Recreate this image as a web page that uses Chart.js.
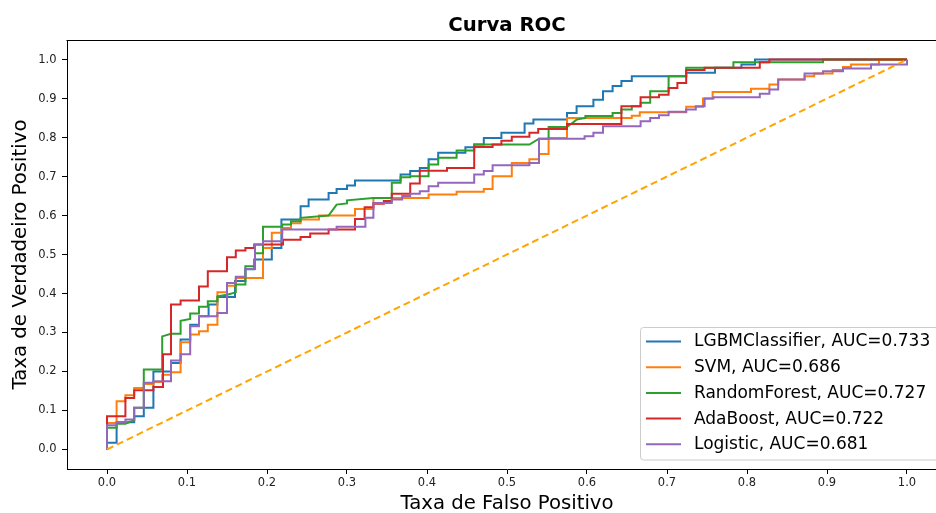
<!DOCTYPE html>
<html><head><meta charset="utf-8">
<script src="https://cdn.jsdelivr.net/npm/chart.js@4.4.1/dist/chart.umd.min.js"></script>
<style>
html,body{margin:0;padding:0;background:#fff;overflow:hidden;}
#wrap{width:936px;height:513px;overflow:hidden;position:relative;background:#fff;}
canvas{display:block;}
</style></head><body>
<div id="wrap"><canvas id="c" width="960" height="513"></canvas></div>
<script>
const chartTitle = 'Curva ROC';
const xAxisTitle = 'Taxa de Falso Positivo';
const yAxisTitle = 'Taxa de Verdadeiro Positivo';
const xTickValues = [0.0, 0.1, 0.2, 0.3, 0.4, 0.5, 0.6, 0.7, 0.8, 0.9, 1.0];
const yTickValues = [0.0, 0.1, 0.2, 0.3, 0.4, 0.5, 0.6, 0.7, 0.8, 0.9, 1.0];
const seriesNames = ['LGBMClassifier', 'SVM', 'RandomForest', 'AdaBoost', 'Logistic'];
const aucValues = [0.733, 0.686, 0.727, 0.722, 0.681];
const seriesColors = ['#1f77b4', '#ff7f0e', '#2ca02c', '#d62728', '#9467bd'];

const lgbmPoints = [[0,0],[0,0.017],[0.012,0.017],[0.012,0.070],[0.034,0.070],[0.034,0.085],[0.046,0.085],[0.046,0.107],[0.058,0.107],[0.058,0.200],[0.080,0.200],[0.080,0.222],[0.092,0.222],[0.092,0.282],[0.104,0.282],[0.104,0.320],[0.115,0.320],[0.115,0.342],[0.127,0.342],[0.127,0.372],[0.138,0.372],[0.138,0.391],[0.160,0.391],[0.160,0.432],[0.173,0.432],[0.173,0.462],[0.184,0.462],[0.184,0.487],[0.206,0.487],[0.206,0.517],[0.218,0.517],[0.218,0.590],[0.242,0.590],[0.242,0.624],[0.252,0.624],[0.252,0.641],[0.277,0.641],[0.277,0.658],[0.287,0.658],[0.287,0.668],[0.300,0.668],[0.300,0.677],[0.310,0.677],[0.310,0.690],[0.367,0.690],[0.367,0.705],[0.379,0.705],[0.379,0.714],[0.391,0.714],[0.391,0.722],[0.402,0.722],[0.402,0.744],[0.414,0.744],[0.414,0.761],[0.448,0.761],[0.448,0.775],[0.459,0.775],[0.459,0.782],[0.471,0.782],[0.471,0.799],[0.493,0.799],[0.493,0.812],[0.522,0.812],[0.522,0.836],[0.533,0.836],[0.533,0.846],[0.575,0.846],[0.575,0.863],[0.587,0.863],[0.587,0.880],[0.608,0.880],[0.608,0.897],[0.620,0.897],[0.620,0.919],[0.632,0.919],[0.632,0.932],[0.643,0.932],[0.643,0.945],[0.656,0.945],[0.656,0.957],[0.724,0.957],[0.724,0.966],[0.760,0.966],[0.760,0.979],[0.793,0.979],[0.793,0.987],[0.810,0.987],[0.810,1.0],[1.0,1.0]];

const svmPoints = [[0,0],[0,0.068],[0.012,0.068],[0.012,0.124],[0.023,0.124],[0.023,0.139],[0.034,0.139],[0.034,0.158],[0.046,0.158],[0.046,0.168],[0.058,0.168],[0.058,0.173],[0.069,0.173],[0.069,0.192],[0.080,0.192],[0.080,0.198],[0.092,0.198],[0.092,0.275],[0.104,0.275],[0.104,0.295],[0.115,0.295],[0.115,0.303],[0.126,0.303],[0.126,0.320],[0.138,0.320],[0.138,0.403],[0.150,0.403],[0.150,0.420],[0.161,0.420],[0.161,0.440],[0.195,0.440],[0.195,0.517],[0.206,0.517],[0.206,0.556],[0.219,0.556],[0.219,0.568],[0.230,0.568],[0.230,0.580],[0.242,0.580],[0.242,0.590],[0.265,0.590],[0.265,0.600],[0.310,0.600],[0.310,0.617],[0.333,0.617],[0.333,0.645],[0.402,0.645],[0.402,0.654],[0.437,0.654],[0.437,0.661],[0.471,0.661],[0.471,0.668],[0.482,0.668],[0.482,0.701],[0.506,0.701],[0.506,0.735],[0.528,0.735],[0.528,0.744],[0.540,0.744],[0.540,0.758],[0.552,0.758],[0.552,0.799],[0.575,0.799],[0.575,0.850],[0.656,0.850],[0.656,0.856],[0.666,0.856],[0.666,0.865],[0.724,0.865],[0.724,0.879],[0.745,0.879],[0.745,0.900],[0.757,0.900],[0.757,0.917],[0.805,0.917],[0.805,0.925],[0.828,0.925],[0.828,0.936],[0.839,0.936],[0.839,0.949],[0.872,0.949],[0.872,0.957],[0.884,0.957],[0.884,0.964],[0.907,0.964],[0.907,0.973],[0.920,0.973],[0.920,0.981],[0.930,0.981],[0.930,0.987],[0.965,0.987],[0.965,1.0],[1.0,1.0]];

const rfPoints = [[0,0],[0,0.056],[0.012,0.056],[0.012,0.066],[0.023,0.066],[0.034,0.075],[0.034,0.107],[0.046,0.107],[0.046,0.205],[0.069,0.205],[0.069,0.290],[0.080,0.297],[0.092,0.297],[0.092,0.330],[0.104,0.335],[0.104,0.349],[0.115,0.349],[0.115,0.366],[0.126,0.366],[0.126,0.380],[0.138,0.380],[0.138,0.393],[0.150,0.397],[0.161,0.403],[0.161,0.423],[0.173,0.423],[0.173,0.470],[0.185,0.470],[0.185,0.503],[0.195,0.503],[0.195,0.571],[0.219,0.571],[0.219,0.577],[0.230,0.577],[0.230,0.585],[0.242,0.585],[0.242,0.594],[0.277,0.600],[0.287,0.628],[0.300,0.631],[0.300,0.639],[0.333,0.645],[0.356,0.645],[0.356,0.684],[0.367,0.684],[0.367,0.698],[0.379,0.698],[0.379,0.701],[0.402,0.701],[0.402,0.731],[0.414,0.731],[0.414,0.748],[0.437,0.748],[0.437,0.767],[0.459,0.767],[0.459,0.782],[0.528,0.782],[0.540,0.797],[0.552,0.797],[0.552,0.827],[0.575,0.827],[0.587,0.846],[0.598,0.850],[0.598,0.855],[0.632,0.855],[0.632,0.863],[0.643,0.863],[0.643,0.872],[0.656,0.872],[0.656,0.880],[0.667,0.880],[0.667,0.889],[0.679,0.889],[0.679,0.919],[0.702,0.919],[0.702,0.957],[0.724,0.957],[0.724,0.979],[0.783,0.979],[0.783,0.993],[0.895,0.993],[0.895,1.0],[1.0,1.0]];

const adaPoints = [[0,0],[0,0.085],[0.023,0.085],[0.023,0.132],[0.034,0.132],[0.034,0.152],[0.058,0.152],[0.058,0.160],[0.070,0.160],[0.070,0.244],[0.080,0.244],[0.080,0.372],[0.092,0.372],[0.092,0.382],[0.115,0.382],[0.115,0.418],[0.126,0.418],[0.126,0.457],[0.150,0.457],[0.150,0.493],[0.161,0.493],[0.161,0.510],[0.173,0.510],[0.173,0.517],[0.184,0.517],[0.184,0.526],[0.220,0.526],[0.220,0.538],[0.242,0.538],[0.242,0.545],[0.254,0.545],[0.254,0.554],[0.277,0.554],[0.277,0.564],[0.310,0.564],[0.310,0.591],[0.322,0.591],[0.322,0.621],[0.333,0.621],[0.333,0.630],[0.346,0.630],[0.346,0.637],[0.356,0.637],[0.356,0.656],[0.379,0.656],[0.379,0.682],[0.391,0.682],[0.391,0.715],[0.425,0.715],[0.425,0.722],[0.459,0.722],[0.459,0.776],[0.482,0.776],[0.482,0.782],[0.493,0.782],[0.493,0.792],[0.506,0.792],[0.506,0.802],[0.528,0.802],[0.528,0.812],[0.539,0.812],[0.539,0.822],[0.575,0.822],[0.575,0.835],[0.643,0.835],[0.643,0.880],[0.667,0.880],[0.667,0.903],[0.690,0.903],[0.690,0.910],[0.702,0.910],[0.702,0.927],[0.713,0.927],[0.713,0.940],[0.724,0.940],[0.724,0.973],[0.747,0.973],[0.747,0.979],[0.816,0.979],[0.816,0.993],[0.828,0.993],[0.828,1.0],[1.0,1.0]];

const logisticPoints = [[0,0],[0,0.062],[0.012,0.062],[0.012,0.070],[0.023,0.070],[0.023,0.077],[0.034,0.077],[0.034,0.107],[0.046,0.107],[0.046,0.171],[0.058,0.171],[0.058,0.175],[0.080,0.175],[0.080,0.228],[0.092,0.228],[0.092,0.244],[0.104,0.244],[0.104,0.316],[0.115,0.316],[0.115,0.342],[0.138,0.342],[0.138,0.350],[0.150,0.350],[0.150,0.427],[0.161,0.427],[0.161,0.443],[0.173,0.443],[0.173,0.463],[0.185,0.463],[0.185,0.526],[0.195,0.526],[0.195,0.534],[0.219,0.534],[0.219,0.564],[0.287,0.564],[0.287,0.571],[0.323,0.571],[0.323,0.594],[0.333,0.594],[0.333,0.632],[0.356,0.632],[0.356,0.641],[0.369,0.641],[0.369,0.650],[0.379,0.650],[0.379,0.656],[0.391,0.656],[0.391,0.662],[0.402,0.662],[0.402,0.675],[0.414,0.675],[0.414,0.684],[0.459,0.684],[0.459,0.705],[0.471,0.705],[0.471,0.714],[0.482,0.714],[0.482,0.729],[0.528,0.729],[0.528,0.735],[0.540,0.735],[0.540,0.797],[0.597,0.797],[0.597,0.803],[0.608,0.803],[0.608,0.812],[0.620,0.812],[0.620,0.829],[0.667,0.829],[0.667,0.842],[0.679,0.842],[0.679,0.850],[0.690,0.850],[0.690,0.857],[0.702,0.857],[0.702,0.866],[0.724,0.866],[0.724,0.872],[0.736,0.872],[0.736,0.880],[0.747,0.880],[0.747,0.900],[0.758,0.900],[0.758,0.903],[0.816,0.903],[0.816,0.912],[0.828,0.912],[0.828,0.923],[0.839,0.923],[0.839,0.949],[0.872,0.949],[0.872,0.964],[0.895,0.964],[0.895,0.970],[0.920,0.970],[0.920,0.977],[0.955,0.977],[0.955,0.987],[1.0,0.987],[1.0,1.0]];

const diagonalPoints = [[0,0],[1,1]];
const diagonalColor = '#ffa500';

const allSeries = [lgbmPoints, svmPoints, rfPoints, adaPoints, logisticPoints];
const FONT = 'DejaVu Sans';
const toXY = pts => pts.map(p => ({x: p[0], y: p[1]}));

const datasets = allSeries.map((pts, i) => ({
  label: seriesNames[i] + ', AUC=' + aucValues[i].toFixed(3),
  data: toXY(pts),
  borderColor: seriesColors[i],
  backgroundColor: seriesColors[i],
  borderWidth: 2,
  pointRadius: 0,
  tension: 0,
  fill: false,
  order: 5 - i
}));
datasets.push({
  label: 'diag',
  data: toXY(diagonalPoints),
  borderColor: diagonalColor,
  borderWidth: 2,
  borderDash: [7, 4],
  pointRadius: 0,
  fill: false,
  order: 0
});

const framePlugin = {
  id: 'frame',
  afterDatasetsDraw(chart) {
    const a = chart.chartArea, ctx = chart.ctx;
    ctx.save();
    ctx.strokeStyle = '#000';
    ctx.lineWidth = 1;
    ctx.beginPath();
    ctx.moveTo(Math.round(a.left) - 0.5, Math.round(a.top) + 0.5);
    ctx.lineTo(Math.round(a.right) + 0.5, Math.round(a.top) + 0.5);
    ctx.lineTo(Math.round(a.right) + 0.5, Math.round(a.bottom) + 0.5);
    ctx.stroke();
    ctx.restore();
  }
};

const legendPlugin = {
  id: 'boxLegend',
  afterDraw(chart) {
    const ctx = chart.ctx;
    const bx = 640.5, by = 327.5, bw = 305, bh = 132.5, r = 3;
    ctx.save();
    ctx.beginPath();
    ctx.moveTo(bx + r, by);
    ctx.lineTo(bx + bw - r, by);
    ctx.arcTo(bx + bw, by, bx + bw, by + r, r);
    ctx.lineTo(bx + bw, by + bh - r);
    ctx.arcTo(bx + bw, by + bh, bx + bw - r, by + bh, r);
    ctx.lineTo(bx + r, by + bh);
    ctx.arcTo(bx, by + bh, bx, by + bh - r, r);
    ctx.lineTo(bx, by + r);
    ctx.arcTo(bx, by, bx + r, by, r);
    ctx.closePath();
    ctx.fillStyle = 'rgba(255,255,255,0.8)';
    ctx.fill();
    ctx.strokeStyle = '#cccccc';
    ctx.lineWidth = 1;
    ctx.stroke();
    ctx.font = '17px "' + FONT + '"';
    ctx.textBaseline = 'middle';
    ctx.textAlign = 'left';
    const rowY0 = 341.5, rowStep = 25.7;
    seriesNames.forEach((name, i) => {
      const y = rowY0 + i * rowStep;
      ctx.strokeStyle = seriesColors[i];
      ctx.lineWidth = 2;
      ctx.beginPath();
      ctx.moveTo(646, y);
      ctx.lineTo(681, y);
      ctx.stroke();
      ctx.fillStyle = '#000';
      ctx.fillText(name + ', AUC=' + aucValues[i].toFixed(3), 694, y + 0.5);
    });
    ctx.restore();
  }
};

const tickFont = {family: FONT, size: 11.5};

new Chart(document.getElementById('c'), {
  type: 'line',
  data: {datasets},
  plugins: [framePlugin, legendPlugin],
  options: {
    responsive: false,
    animation: false,
    devicePixelRatio: 1,
    layout: {padding: {left: 0, right: 13, top: 0, bottom: 0}},
    plugins: {
      legend: {display: false},
      tooltip: {enabled: false},
      title: {
        display: true,
        text: chartTitle,
        fullSize: false,
        color: '#000',
        font: {family: FONT, size: 19.7, weight: 'bold', lineHeight: 1.2},
        padding: {top: 13.7, bottom: 2.7}
      }
    },
    scales: {
      x: {
        type: 'linear',
        min: -0.05,
        max: 1.05,
        afterBuildTicks: s => { s.ticks = xTickValues.map(v => ({value: v})); },
        afterFit: s => { s.height = 44; },
        grid: {display: true, drawOnChartArea: false, drawTicks: true, tickLength: 5, tickColor: '#000', tickWidth: 1},
        border: {display: true, color: '#000', width: 1},
        ticks: {padding: 2, color: '#222', font: tickFont, autoSkip: false, maxRotation: 0, callback: v => Number(v).toFixed(1)},
        title: {display: true, text: xAxisTitle, color: '#000', font: {family: FONT, size: 19.7, lineHeight: 0.9}, padding: {top: 0, bottom: 0}}
      },
      y: {
        type: 'linear',
        min: -0.05,
        max: 1.05,
        afterBuildTicks: s => { s.ticks = yTickValues.map(v => ({value: v})); },
        afterFit: s => { s.width = 67; },
        grid: {display: true, drawOnChartArea: false, drawTicks: true, tickLength: 5, tickColor: '#000', tickWidth: 1},
        border: {display: true, color: '#000', width: 1},
        ticks: {padding: 5.5, color: '#222', font: tickFont, autoSkip: false, callback: v => Number(v).toFixed(1)},
        title: {display: true, text: yAxisTitle, color: '#000', font: {family: FONT, size: 19.7, lineHeight: 1.2}, padding: {top: 8.7, bottom: 0}}
      }
    }
  }
});
</script>
</body></html>
